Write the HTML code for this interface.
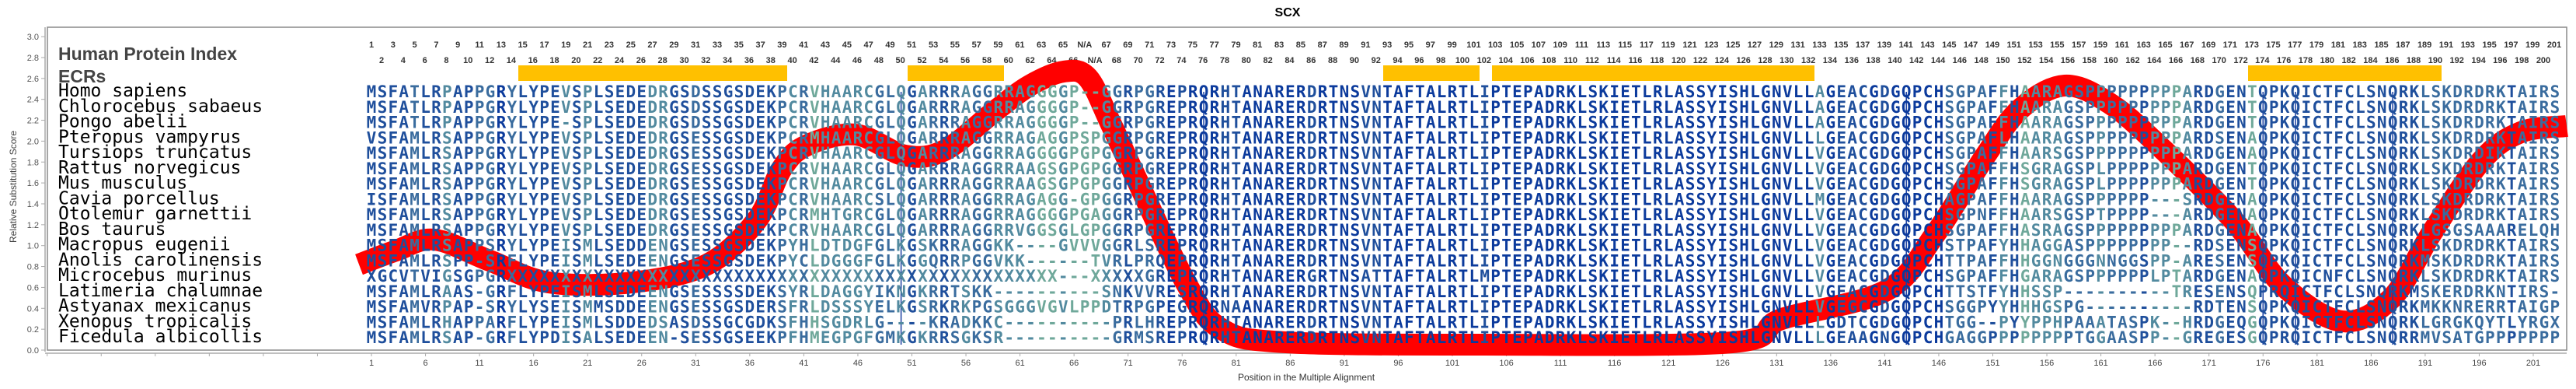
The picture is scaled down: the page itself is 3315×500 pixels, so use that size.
<!DOCTYPE html>
<html><head><meta charset="utf-8">
<style>
html,body{margin:0;padding:0;background:#fff;}
svg{display:block;}
</style></head>
<body>
<svg id="s" width="3315" height="500" xmlns="http://www.w3.org/2000/svg">
<rect width="3315" height="500" fill="#fff"/>
<text x="1657" y="21" font-family="Liberation Sans, sans-serif" font-weight="bold" font-size="16" text-anchor="middle" fill="#000">SCX</text>
<rect x="61" y="35" width="3242" height="415" fill="none" stroke="#8a8a8a" stroke-width="1.5"/>
<line x1="58" y1="35" x2="58" y2="452" stroke="#aaa" stroke-width="1.5"/>
<line x1="58" y1="454" x2="3303" y2="454" stroke="#aaa" stroke-width="1.5"/>
<text x="21" y="240" transform="rotate(-90 21 240)" font-family="Liberation Sans, sans-serif" font-size="12" text-anchor="middle" fill="#444">Relative Substitution Score</text>
<text x="1681" y="489" font-family="Liberation Sans, sans-serif" font-size="12" text-anchor="middle" fill="#333">Position in the Multiple Alignment</text>
<text x="75" y="77" font-family="Liberation Sans, sans-serif" font-weight="bold" font-size="23" fill="#444">Human Protein Index</text>
<text x="75" y="106" font-family="Liberation Sans, sans-serif" font-weight="bold" font-size="23" fill="#444">ECRs</text>
<g fill="#ffc000">
<rect x="667" y="84" width="346" height="20"/>
<rect x="1168" y="84" width="124" height="20"/>
<rect x="1780" y="84" width="124" height="20"/>
<rect x="1920" y="84" width="415" height="20"/>
<rect x="2893" y="84" width="249" height="20"/>
</g>
<g id="g"></g>
</svg>
<script>
(function(){
var NS="http://www.w3.org/2000/svg",g=document.getElementById('g');
function T(x,y,t,a){var e=document.createElementNS(NS,'text');e.setAttribute('x',x);e.setAttribute('y',y);for(var k in a)e.setAttribute(k,a[k]);e.textContent=t;g.appendChild(e);return e;}
function L(x1,y1,x2,y2,c,w){var e=document.createElementNS(NS,'line');e.setAttribute('x1',x1);e.setAttribute('y1',y1);e.setAttribute('x2',x2);e.setAttribute('y2',y2);e.setAttribute('stroke',c);e.setAttribute('stroke-width',w);g.appendChild(e);}
for(var i=0;i<=15;i++){var v=i*0.2,y=450-v*134.3;T(50,y+4,v.toFixed(1),{'font-family':'Liberation Sans, sans-serif','font-size':'11','text-anchor':'end',fill:'#555'});L(53,y,58,y,'#aaa',1);}
var X0=478,DX=13.91;
for(var k=-6;k<=40;k++){var x=X0+k*5*DX;if(x<60||x>3303)continue;L(x,454,x,458,'#aaa',1);if(k>=0)T(x,470,String(1+k*5),{'font-family':'Liberation Sans, sans-serif','font-size':'11','text-anchor':'middle',fill:'#444'});}
var topL=[],botL=[],n;for(n=1;n<=65;n+=2)topL.push(n);topL.push('N/A');for(n=67;n<=201;n+=2)topL.push(n);
for(n=2;n<=66;n+=2)botL.push(n);botL.push('N/A');for(n=68;n<=200;n+=2)botL.push(n);
topL.forEach(function(t,i){T(478+i*(3287-478)/(topL.length-1),61,String(t),{'font-family':'Liberation Sans, sans-serif','font-size':'11','font-weight':'bold','text-anchor':'middle',fill:'#333'});});
botL.forEach(function(t,i){T(491+i*(3273-491)/(botL.length-1),81,String(t),{'font-family':'Liberation Sans, sans-serif','font-size':'11','font-weight':'bold','text-anchor':'middle',fill:'#333'});});
var P=[[462,340],[510,322],[559,308],[630,335],[706,363],[814,363],[910,340],[974,283],[1006,217],[1038,187],[1101,173],[1165,200],[1216,193],[1280,143],[1325,110],[1369,92],[1400,100],[1430,160],[1464,233],[1528,367],[1572,423],[1655,440],[1910,443],[2229,440],[2293,410],[2428,373],[2491,300],[2555,200],[2600,140],[2657,110],[2715,133],[2778,187],[2874,283],[2938,367],[3014,413],[3078,383],[3129,300],[3193,207],[3244,170],[3303,162]];
function cr(p){var d='M'+p[0][0]+','+p[0][1];for(var i=0;i<p.length-1;i++){var a=p[i-1]||p[i],b=p[i],c=p[i+1],e=p[i+2]||c;d+=' C'+(b[0]+(c[0]-a[0])/6)+','+(b[1]+(c[1]-a[1])/6)+' '+(c[0]-(e[0]-b[0])/6)+','+(c[1]-(e[1]-b[1])/6)+' '+c[0]+','+c[1];}return d;}
var pa=document.createElementNS(NS,'path');pa.setAttribute('d',cr(P));pa.setAttribute('fill','none');pa.setAttribute('stroke','#ff0000');pa.setAttribute('stroke-width','28');g.appendChild(pa);
[50,78,143,176,179,188].forEach(function(c){var x=X0+(c-1)*DX;L(x,118,x,443,'#1a3fa0',1.5);});
var H2="--GGRPGREPRQRHTANARERDRTNSVNTAFTALRTLIPTEPADRKLSKIETLRLASSYISHLGNVLL",R="PRQRHTANARERDRTNSVNTAFTALRTLIPTEPADRKLSKIETLRLASSYISHLGNVLL";
var rows=[
["Homo sapiens","MSFATLRPAPPGRYLYPEVSPLSEDEDRGSDSSGSDEKPCRVHAARCGLQGARRRAGGRRAGGGGP",H2,"AGEACGDGQPCHSGPAFFHAARAGSPPPPPPPPPARDGENTQPKQICTFCLSNQRKLSKDRDRKTAIRS"],
["Chlorocebus sabaeus","MSFATLRPAPPGRYLYPEVSPLSEDEDRGSDSSGSDEKPCRVHAARCGLQGARRRAGGRRAGGGGP",H2,"AGEACGDGQPCHSGPAFFHAARAGSPPPPPPPPPARDGENTQPKQICTFCLSNQRKLSKDRDRKTAIRS"],
["Pongo abelii","MSFATLRPAPPGRYLYPE-SPLSEDEDRGSDSSGSDEKPCRVHAARCGLQGARRRAGGRRAGGGGP",H2,"AGEACGDGQPCHSGPAFFHAARAGSPPPPPPPPPARDGENTQPKQICTFCLSNQRKLSKDRDRKTAIRS"],
["Pteropus vampyrus","VSFAMLRSAPPGRYLYPEVSPLSEDEDRGSESSGSDEKPCRMHAARCGLQGARRRAGGRRAGAGGP","SPGGRPGRE"+R,"LGEACGDGQPCHSGPAFLHAARAGSPPPPPPPPPARDSENAQPKQICTFCLSNQRKLSKDRDRKTAIRS"],
["Tursiops truncatus","MSFAMLRSAPPGRYLYPEVSPLSEDEDRGSESSGSDEKPCRVHAARCGLQGARRRAGGRRAGGGGP","GPGGRPGRE"+R,"VGEACGDGQPCHSGPAFFHAARSGSPPPPPPPPPARDGENAQPKQICTFCLSNQRKLSKDRDIKTAIRS"],
["Rattus norvegicus","MSFAMLRSAPPGRYLYPEVSPLSEDEDRGSESSGSDEKPCRVHAARCGLQGARRRAGGRRAAGSGP","GPGGRPGRE"+R,"VGEACGDGQPCHSGPAFFHSGRAGSPLPPPPPPPARDGENTQPKQICTFCLSNQRKLSKDRDRKTAIRS"],
["Mus musculus","MSFAMLRSAPPGRYLYPEVSPLSEDEDRGSESSGSDEKPCRVHAARCGLQGARRRAGGRRAAGSGP","GPGGRPGRE"+R,"VGEACGDGQPCHSGPAFFHSGRAGSPLPPPPPPPARDGENTQPKQICTFCLSNQRKLSKDRDRKTAIRS"],
["Cavia porcellus","ISFAMLRSAPPGRYLYPEVSPLSEDEDRGSESSGSDEKPCRVHAARCSLQGARRRAGGRRAGAGG-","GPGGRPGRE"+R,"MGEACGDGQPCHAGPAFFHAARAGSPPPPPP---SRDGENAQPKQICTFCLSNQRKLSKDRDRKTAIRS"],
["Otolemur garnettii","MSFAMLRSAPPGRYLYPEVSPLSEDEDRGSESSGSDEKPCRMHTGRCGLQGARRRAGGRRAGGGGP","GAGGRPGRE"+R,"VGEACGDGQPCHSGPNFFHAARSGSPTPPPP---ARDGENAQPKQICTFCLSNQRKLSKDRDRKTAIRS"],
["Bos taurus","MSFAMLRSAPPGRYLYPEVSPLSEDEDRGSESSGSDEKPCRVHAARCGLQGARRRAGGRRVGGSGL","GPGGRPGRE"+R,"VGEACGDGQPCHSGPAFFHASRAGSPPPPPPPPPARDGENAQPKQICTFCLSNQRKLGSGSAAARELQH"],
["Macropus eugenii","MSFAMLRSAPPSRYLYPEISMLSEDDENGSESSGSDEKPYHLDTDGFGLKGSKRRAGGKK----GV","VVGGRLSRE"+R,"VGEACGDGQPCHSTPAFYHHAGGASPPPPPPPP--RDSENSQPKQICTFCLSNQRKLSKDRDRKTAIRS"],
["Anolis carolinensis","MSFAMLRSPP-SRFLYPEISMLSEDEENGSESSGSDEKPYCLDGGGFGLKGGQRRPGGVKK------","-TVRLPRQE"+R,"VGEACGDGQPCHTTPAFFHHGGNGGGNNGGSPP-ARESENSQPKQICTFCLSNQRKMSKDRDRKTAIRS"],
["Microcebus murinus","XGCVTVIGSGPGRXXXXXXXXXXXXXXXXXXXXXXXXXXXXXXXXXXXXXXXXXXXXXXXXXXX--","-XXXXXGREPRQRHTANARERGRTNSATTAFTALRTLMPTEPADRKLSKIETLRLASSYISHLGNVLL","VGEACGDGQPCHSGPAFFHGARAGSPPPPPPLPTARDGENAQPKQICNFCLSNQRKLSKDRDRKTAIRS"],
["Latimeria chalumnae","MSFAMLRAAS-GRFLYPEISMLSEDEENGSESSSSDEKSYRLDAGGYIKNGKRRTSKK--------","--SNKVVRESRQRHTANARERDRTNSVNTAFTALRTLIPTEPADRKLSKIETLRLASSYISHLGNVLL","VGEACGDGQPCHTTSTFYHHSSP----------TRESENSQPRQICTFCLSNQRKMSKERDRKNTIRS"],
["Astyanax mexicanus","MSFAMVRPAP-SRYLYSEISMMSDDEENGSESSGSDERSFRLDSSSYELKGSRKRKPGSGGGVGVL","PPDTRPGPEGRQRNAANARERDRTNSVNTAFTALRTLIPTEPADRKLSKIETLRLASSYISHLGNVLL","VGEGCGDGQPCHSGGPYYHHHGSPG----------RDTENSQPKQICTFCLSNQRKMKKNRERRTAIGP"],
["Xenopus tropicalis","MSFAMLRHAPPARFLYPEISMLSDDEDSASDSSGCGDKSFHHSGDRLG----KRADKKC-------","---PRLHRE"+R,"LGDTCGDGQPCHTGG--PYYPPHPAAATASPK--HRDGEQGQPKQICTFCLSNQRKLGRGKQYTLYRGX"],
["Ficedula albicollis","MSFAMLRSAP-GRFLYPDISALSEDEEN-SESSGSEEKPFHMEGPGFGMKGKRRSGKSR-------","---GRMSRE"+R,"LGEAAGNGQPCHGAGGPPPPPPPPTGGAASPP--GREGESGQPRQICTFCLSNQRRMVSATGPPPPPPP"]];
function fit(s,n){while(s.length<n)s+='-';return s.substr(0,n);}
var NC=203;
var seqs=rows.map(function(r){return fit(r[1],66)+fit(r[2],68)+fit(r[3],69);});
var cols=['#8dbf98','#6fa89a','#528a9f','#3a6c9e','#1f4f9c','#0b3a9c'];
var colC=[];for(var c=0;c<NC;c++){var cnt={},m=0;seqs.forEach(function(s){var ch=s[c];cnt[ch]=(cnt[ch]||0)+1;if(cnt[ch]>m)m=cnt[ch];});var f=m/17;colC.push(f>=0.95?cols[5]:f>=0.8?cols[4]:f>=0.65?cols[3]:f>=0.5?cols[2]:f>=0.35?cols[1]:cols[0]);}
rows.forEach(function(r,i){var y=124+i*19.75;
T(75,y,r[0],{'font-family':'DejaVu Sans Mono, Liberation Mono, monospace','font-size':'23',fill:'#000'});
var s=seqs[i];for(var c=0;c<NC;c++){T(X0+c*DX,y+1,s[c],{'font-family':'DejaVu Sans Mono, Liberation Mono, monospace','font-size':'21','font-weight':'bold','text-anchor':'middle',fill:colC[c]});}
});
})();
</script>
</body></html>
